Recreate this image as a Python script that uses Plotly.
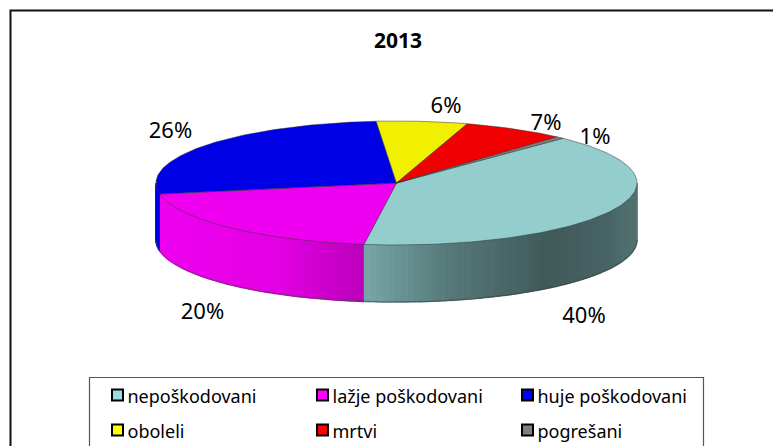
import numpy as np
import plotly.graph_objects as go

categories = ["nepoškodovani", "lažje poškodovani", "huje poškodovani", "oboleli", "mrtvi", "pogrešani"]
values = [40.0, 20.0, 26.49, 6.1, 6.9, 0.51]
labels = ["40%", "20%", "26%", "6%", "7%", "1%"]
colors = ["#93CDCD", "#F000F0", "#0000E6", "#F0F000", "#F00000", "#808080"]
key_colors = ["#99DDDD", "#FF00FF", "#0000FF", "#FFFF00", "#FF0000", "#808080"]

CX, CY, RX, RY, DEPTH, START = 396.5, 183, 240.5, 62, 57, 43.8


def pt(deg):
    a = np.radians(deg)
    return CX + RX * np.sin(a), CY - RY * np.cos(a)


def hexrgb(h):
    return [int(h[i:i + 2], 16) for i in (1, 3, 5)]


def side_shade(i, deg):
    # brightness of the rim: shading across the visible front
    x = np.sin(np.radians(deg))
    if i == 0:
        stops = [(-0.14, 0.82), (0.2, 0.6), (0.62, 0.44), (0.85, 0.48), (1.0, 0.56)]
    else:
        stops = [(-1.0, 1.0), (-0.5, 0.95), (-0.14, 0.78)]
    return np.interp(x, [s[0] for s in stops], [s[1] for s in stops])


fig = go.Figure()
bounds = START + np.concatenate([[0], np.cumsum(values)]) * 3.6

# rim
for i, (a0, a1) in enumerate(zip(bounds[:-1], bounds[1:])):
    lo, hi = max(a0, 90), min(a1, 270)
    if hi <= lo:
        continue
    edges = np.linspace(lo, hi, max(2, int((hi - lo) / 1.5) + 1))
    base = hexrgb(colors[i])
    for d0, d1 in zip(edges[:-1], edges[1:]):
        ds = np.linspace(d0, d1, 4)
        xs, ys = pt(ds)
        f = side_shade(i, (d0 + d1) / 2)
        c = "rgb(%d,%d,%d)" % tuple(int(v * f) for v in base)
        fig.add_trace(go.Scatter(
            x=list(xs) + list(xs[::-1]), y=list(ys) + list((ys + DEPTH)[::-1]),
            mode="lines", fill="toself", fillcolor=c, line=dict(color=c, width=1.5),
            showlegend=False, hoverinfo="skip"))

# outline of rim
ds = np.linspace(90, 270, 120)
xs, ys = pt(ds)
fig.add_trace(go.Scatter(x=xs, y=ys + DEPTH, mode="lines", line=dict(color="#444", width=0.7),
                         showlegend=False, hoverinfo="skip"))

# top faces
for i, (a0, a1) in enumerate(zip(bounds[:-1], bounds[1:])):
    ds = np.linspace(a0, a1, max(3, int(a1 - a0) + 1))
    xs, ys = pt(ds)
    fig.add_trace(go.Scatter(
        x=[CX] + list(xs) + [CX], y=[CY] + list(ys) + [CY], mode="lines", fill="toself",
        fillcolor=colors[i], line=dict(color="#333", width=0.5),
        name=categories[i], hovertemplate="%{fullData.name}<extra></extra>", showlegend=False))

label_x = [584, 202.5, 170.5, 446, 546, 595]
label_y = [317, 313, 132, 107, 124, 138]
fig.add_trace(go.Scatter(x=label_x, y=label_y, mode="text", text=labels,
                         textfont=dict(family="Noto Sans", size=22, color="#000"),
                         showlegend=False, hoverinfo="skip"))

# legend
leg_x = [117.5, 322.5, 527.5]
leg_y = [395, 430]
lx = [leg_x[i % 3] for i in range(6)]
ly = [leg_y[i // 3] for i in range(6)]
fig.add_trace(go.Scatter(x=lx, y=ly, mode="markers",
                         marker=dict(symbol="square", size=11, color=key_colors,
                                     line=dict(color="#000", width=2)),
                         showlegend=False, hoverinfo="skip"))
fig.add_trace(go.Scatter(x=[v + 10 for v in lx], y=[v + 3.5 for v in ly], mode="text", text=categories,
                         textposition="middle right",
                         textfont=dict(family="Noto Sans", size=18, color="#000"),
                         showlegend=False, hoverinfo="skip"))

fig.update_layout(
    width=773, height=446, margin=dict(l=0, r=0, t=0, b=0),
    paper_bgcolor="white", plot_bgcolor="white",
    xaxis=dict(range=[0, 773], visible=False, fixedrange=True),
    yaxis=dict(range=[446, 0], visible=False, fixedrange=True),
    annotations=[dict(text="<b>2013</b>", x=398, y=39.5, xref="x", yref="y", showarrow=False,
                      font=dict(family="Noto Sans", size=21, color="#000"))],
    shapes=[
        dict(type="path", path="M 10.5 460 L 10.5 10.5 L 790 10.5", line=dict(color="#111", width=2), xref="x", yref="y"),
        dict(type="rect", x0=89.5, y0=377.5, x1=703.5, y1=470, line=dict(color="#555", width=1.2), xref="x", yref="y"),
    ],
)
fig.write_html("out.html", post_script="document.body.style.margin='0';document.body.style.overflow='hidden';", config={"displayModeBar": False})
